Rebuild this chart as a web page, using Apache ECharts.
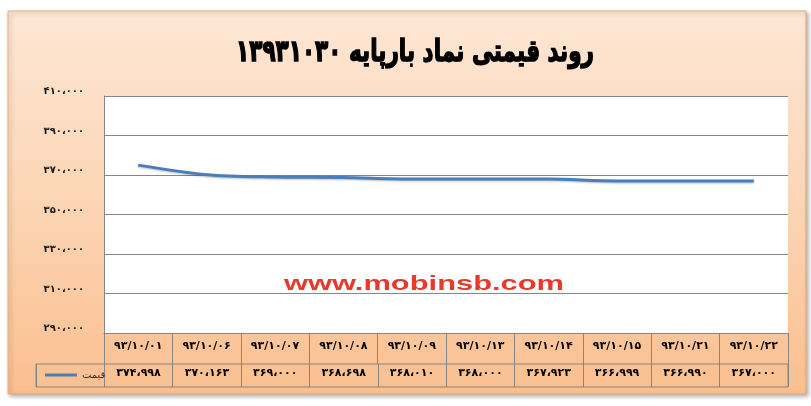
<!DOCTYPE html>
<html>
<head>
<meta charset="utf-8">
<script src="https://cdn.jsdelivr.net/npm/echarts@6/dist/echarts.min.js"></script>
<style>
html,body{margin:0;padding:0;background:#fff;}
#chart1{width:811px;height:406px;}
</style>
</head>
<body>
<div id="chart1"></div>
<script>
// داده ها
var titleText = 'روند قیمتی نماد بارپایه 13931030';
var seriesName = 'قیمت';
var dates = ['93/10/01', '93/10/06', '93/10/07', '93/10/08', '93/10/09',
             '93/10/13', '93/10/14', '93/10/15', '93/10/21', '93/10/22'];
var prices = [374998, 370163, 369000, 368698, 368010,
              368000, 367923, 366999, 366990, 367000];
var yMin = 290000, yMax = 410000, yStep = 20000;
var watermark = 'www.mobinsb.com';

// ارقام فارسی
function fa(s) {
	return String(s).replace(/\d/g, function(d) { return '۰۱۲۳۴۵۶۷۸۹'[d]; });
}
function faNum(v) {
	var s = String(Math.round(v)).replace(/\B(?=(\d{3})+(?!\d))/g, '،');
	return fa(s);
}

var myChart = echarts.init(document.getElementById('chart1'));
var font = 'DejaVu Sans';
var gridColor = '#868686';

var option = {
	animation : false,
	graphic : [ {
		type : 'rect',
		z : -10,
		shape : { x : 8, y : 11, width : 798, height : 383 },
		style : {
			fill : new echarts.graphic.LinearGradient(0, 0, 0, 1, [
				{ offset : 0, color : '#fde7d5' },
				{ offset : 0.5, color : '#fcd5b4' },
				{ offset : 1, color : '#fabf8f' } ]),
			stroke : '#e3ad80',
			lineWidth : 1,
			shadowBlur : 4,
			shadowOffsetX : 2,
			shadowOffsetY : 2,
			shadowColor : 'rgba(0,0,0,0.3)'
		}
	}, {
		// عنوان
		type : 'text',
		z : 10,
		x : 415,
		y : 53,
		scaleX : 0.72,
		style : {
			text : fa(titleText),
			font : 'bold 30px "DejaVu Sans"',
			fill : '#000',
			stroke : '#000',
			lineWidth : 1.4,
			align : 'center',
			verticalAlign : 'middle',
			textAlign : 'center',
			textVerticalAlign : 'middle'
		}
	}, {
		type : 'text',
		z : 10,
		x : 424,
		y : 284,
		scaleX : 1.47,
		style : {
			text : watermark,
			font : 'bold 21px "Liberation Sans"',
			fill : '#e8392c',
			align : 'center',
			verticalAlign : 'middle',
			textAlign : 'center',
			textVerticalAlign : 'middle'
		}
	} ],
	legend : {
		data : [ seriesName ],
		left : 40,
		top : 365,
		icon : 'rect',
		itemWidth : 32,
		itemHeight : 3,
		textStyle : {
			fontFamily : font,
			fontSize : 10,
			color : '#333'
		}
	},
	grid : [ {
		left : 104,
		top : 96,
		width : 684,
		height : 237,
		show : true,
		backgroundColor : '#fff',
		borderWidth : 0
	}, {
		left : 36,
		top : 364,
		width : 752,
		height : 23,
		show : true,
		backgroundColor : 'transparent',
		borderColor : gridColor,
		borderWidth : 1
	} ],
	xAxis : [ {
		type : 'category',
		gridIndex : 0,
		data : dates,
		axisLine : { lineStyle : { color : gridColor, width : 1 } },
		axisTick : { show : true, interval : 0, length : 31, lineStyle : { color : gridColor } },
		axisLabel : {
			interval : 0,
			margin : 8,
			formatter : function(v) { return fa(v); },
			fontFamily : font,
			fontWeight : 'bold',
			fontSize : 11,
			color : '#000'
		}
	}, {
		type : 'category',
		gridIndex : 1,
		data : [ '' ].concat(prices.map(faNum)),
		axisLine : { show : false },
		axisTick : { show : false },
		splitLine : { show : true, interval : 0, lineStyle : { color : gridColor } },
		axisLabel : {
			inside : true,
			interval : 0,
			margin : 8,
			fontFamily : font,
			fontWeight : 'bold',
			fontSize : 11,
			color : '#000'
		}
	} ],
	yAxis : [ {
		type : 'value',
		gridIndex : 0,
		min : yMin,
		max : yMax,
		interval : yStep,
		axisLine : { show : true, lineStyle : { color : gridColor } },
		axisTick : { show : false },
		splitLine : { lineStyle : { color : gridColor, width : 1 } },
		axisLabel : {
			margin : 20,
			formatter : faNum,
			fontFamily : font,
			fontWeight : 'bold',
			fontSize : 10,
			color : '#1a1a1a',
			verticalAlign : 'bottom',
			lineHeight : 9
		}
	}, {
		type : 'category',
		gridIndex : 1,
		data : [ '' ],
		show : false
	} ],
	series : [ {
		name : seriesName,
		type : 'line',
		xAxisIndex : 0,
		yAxisIndex : 0,
		data : prices,
		smooth : 0.3,
		showSymbol : false,
		symbol : 'none',
		color : '#4a7ebb',
		lineStyle : {
			color : '#4a7ebb',
			width : 3,
			shadowBlur : 2,
			shadowOffsetY : 1,
			shadowColor : 'rgba(0,0,0,0.25)'
		}
	} ]
};

myChart.setOption(option);
</script>
</body>
</html>
